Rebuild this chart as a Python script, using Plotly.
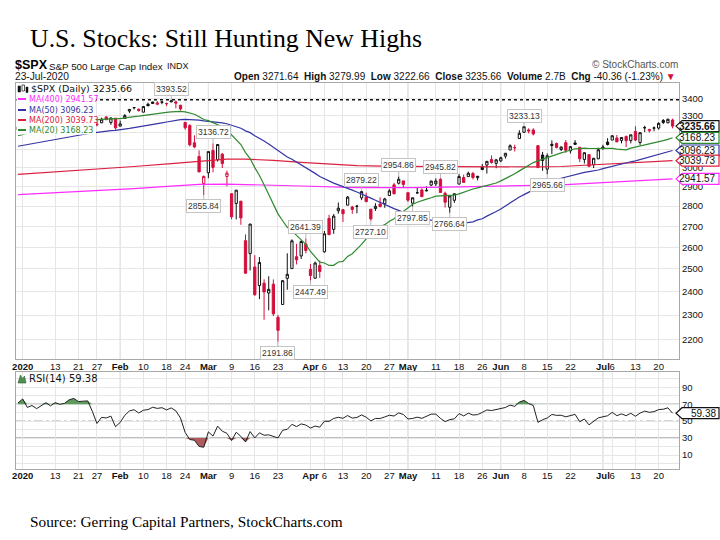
import math
import plotly.graph_objects as go

# ---------------- data ----------------
dates = [
    "2019-12-31",
    "2020-01-02", "2020-01-03", "2020-01-06", "2020-01-07", "2020-01-08", "2020-01-09", "2020-01-10",
    "2020-01-13", "2020-01-14", "2020-01-15", "2020-01-16", "2020-01-17", "2020-01-21", "2020-01-22",
    "2020-01-23", "2020-01-24", "2020-01-27", "2020-01-28", "2020-01-29", "2020-01-30", "2020-01-31",
    "2020-02-03", "2020-02-04", "2020-02-05", "2020-02-06", "2020-02-07", "2020-02-10", "2020-02-11",
    "2020-02-12", "2020-02-13", "2020-02-14", "2020-02-18", "2020-02-19", "2020-02-20", "2020-02-21",
    "2020-02-24", "2020-02-25", "2020-02-26", "2020-02-27", "2020-02-28",
    "2020-03-02", "2020-03-03", "2020-03-04", "2020-03-05", "2020-03-06", "2020-03-09", "2020-03-10",
    "2020-03-11", "2020-03-12", "2020-03-13", "2020-03-16", "2020-03-17", "2020-03-18", "2020-03-19",
    "2020-03-20", "2020-03-23", "2020-03-24", "2020-03-25", "2020-03-26", "2020-03-27", "2020-03-30",
    "2020-03-31",
    "2020-04-01", "2020-04-02", "2020-04-03", "2020-04-06", "2020-04-07", "2020-04-08", "2020-04-09",
    "2020-04-13", "2020-04-14", "2020-04-15", "2020-04-16", "2020-04-17", "2020-04-20", "2020-04-21",
    "2020-04-22", "2020-04-23", "2020-04-24", "2020-04-27", "2020-04-28", "2020-04-29", "2020-04-30",
    "2020-05-01", "2020-05-04", "2020-05-05", "2020-05-06", "2020-05-07", "2020-05-08", "2020-05-11",
    "2020-05-12", "2020-05-13", "2020-05-14", "2020-05-15", "2020-05-18", "2020-05-19", "2020-05-20",
    "2020-05-21", "2020-05-22", "2020-05-26", "2020-05-27", "2020-05-28", "2020-05-29",
    "2020-06-01", "2020-06-02", "2020-06-03", "2020-06-04", "2020-06-05", "2020-06-08", "2020-06-09",
    "2020-06-10", "2020-06-11", "2020-06-12", "2020-06-15", "2020-06-16", "2020-06-17", "2020-06-18",
    "2020-06-19", "2020-06-22", "2020-06-23", "2020-06-24", "2020-06-25", "2020-06-26", "2020-06-29",
    "2020-06-30",
    "2020-07-01", "2020-07-02", "2020-07-06", "2020-07-07", "2020-07-08", "2020-07-09", "2020-07-10",
    "2020-07-13", "2020-07-14", "2020-07-15", "2020-07-16", "2020-07-17", "2020-07-20", "2020-07-21",
    "2020-07-22", "2020-07-23",
]

opens = [
    3215.18,
    3244.67, 3226.36, 3217.55, 3241.86, 3238.59, 3266.03, 3281.81, 3271.13, 3285.35, 3282.27, 3302.97,
    3323.66, 3321.03, 3330.02, 3315.77, 3333.10, 3247.16, 3255.35, 3289.46, 3256.45, 3282.33,
    3235.66, 3280.61, 3324.91, 3344.92, 3335.54, 3318.28, 3365.87, 3370.50, 3365.90, 3378.08, 3369.04,
    3380.39, 3380.45, 3360.50, 3257.61, 3238.94, 3139.90, 3062.54, 2916.90,
    2974.28, 3096.46, 3045.75, 3075.70, 2954.20, 2863.89, 2813.48, 2825.60, 2630.86, 2569.99, 2508.59,
    2425.66, 2436.50, 2393.48, 2431.94, 2290.71, 2344.44, 2457.77, 2501.29, 2555.87, 2558.98, 2614.69,
    2498.08, 2458.54, 2514.92, 2578.28, 2738.65, 2685.00, 2776.99, 2782.46, 2805.10, 2795.64, 2799.34,
    2842.43, 2845.62, 2784.81, 2787.89, 2810.42, 2812.64, 2854.65, 2909.96, 2918.46, 2930.91,
    2869.09, 2815.01, 2868.88, 2883.14, 2878.26, 2908.83, 2915.46, 2939.50, 2865.86, 2794.54, 2829.95,
    2913.86, 2948.59, 2953.63, 2969.95, 2948.05, 3004.08, 3015.65, 3046.61, 3025.17,
    3038.78, 3064.78, 3098.90, 3111.56, 3163.84, 3199.92, 3213.32, 3213.42, 3123.53, 3071.04, 2993.76,
    3131.00, 3136.13, 3101.64, 3140.29, 3094.42, 3138.70, 3114.40, 3046.60, 3073.20, 3018.59, 3050.20,
    3105.92, 3143.64, 3155.29, 3166.44, 3153.07, 3176.17, 3152.47, 3205.08, 3141.11, 3225.98, 3208.36,
    3224.21, 3224.29, 3268.52, 3254.86, 3271.64,
]

highs = [
    3231.72,
    3258.14, 3246.15, 3246.84, 3244.91, 3267.07, 3275.58, 3282.99, 3288.13, 3294.25, 3298.66, 3317.11,
    3329.88, 3329.79, 3337.77, 3326.88, 3333.18, 3258.85, 3285.78, 3293.47, 3285.91, 3282.33,
    3268.44, 3306.92, 3337.58, 3347.96, 3341.42, 3352.26, 3375.63, 3381.47, 3385.09, 3380.69, 3375.01,
    3393.52, 3389.15, 3360.76, 3259.81, 3246.99, 3182.51, 3097.07, 2959.72,
    3090.96, 3136.72, 3130.97, 3083.04, 2985.93, 2863.89, 2882.59, 2825.60, 2660.95, 2711.33, 2562.98,
    2553.93, 2453.57, 2466.97, 2453.01, 2300.73, 2449.71, 2571.42, 2637.01, 2615.91, 2631.80, 2641.39,
    2522.75, 2533.22, 2538.18, 2676.85, 2756.89, 2760.75, 2818.57, 2782.46, 2851.85, 2801.88, 2806.51,
    2879.22, 2868.98, 2785.54, 2815.10, 2844.90, 2842.71, 2887.72, 2921.15, 2954.86, 2930.91,
    2869.09, 2844.24, 2898.23, 2891.11, 2901.92, 2932.16, 2944.25, 2945.82, 2874.14, 2852.80, 2865.01,
    2968.09, 2964.21, 2980.29, 2978.50, 2956.76, 3021.72, 3036.25, 3068.67, 3049.17,
    3062.18, 3081.07, 3130.94, 3128.91, 3211.72, 3233.13, 3222.71, 3223.27, 3123.53, 3088.42, 3079.76,
    3153.45, 3141.16, 3120.00, 3155.53, 3120.92, 3154.90, 3115.01, 3086.25, 3073.73, 3053.89, 3111.51,
    3128.44, 3165.81, 3182.59, 3184.15, 3171.80, 3179.78, 3186.82, 3235.32, 3200.95, 3238.28, 3220.39,
    3233.52, 3258.61, 3277.29, 3279.32, 3279.99,
]

lows = [
    3212.03,
    3235.53, 3222.34, 3214.64, 3232.43, 3236.67, 3263.67, 3260.86, 3268.43, 3277.19, 3280.69, 3302.82,
    3318.86, 3316.61, 3320.04, 3301.87, 3281.53, 3234.50, 3253.22, 3271.89, 3242.80, 3214.68,
    3235.66, 3280.61, 3313.75, 3334.39, 3322.12, 3317.77, 3352.72, 3369.72, 3360.52, 3366.15, 3355.61,
    3378.83, 3341.02, 3328.45, 3214.65, 3118.77, 3108.99, 2977.39, 2855.84,
    2945.19, 2976.63, 3034.38, 2999.83, 2901.54, 2734.43, 2734.00, 2707.22, 2478.86, 2492.37, 2380.94,
    2367.04, 2280.52, 2319.78, 2295.56, 2191.86, 2344.44, 2407.53, 2500.72, 2520.02, 2545.28, 2571.15,
    2447.49, 2455.79, 2459.96, 2574.57, 2657.67, 2663.30, 2762.36, 2721.17, 2805.10, 2761.54, 2764.32,
    2830.88, 2820.43, 2727.10, 2775.95, 2794.26, 2791.76, 2852.89, 2860.71, 2912.16, 2892.47,
    2821.61, 2797.85, 2863.55, 2847.65, 2876.48, 2902.88, 2903.44, 2869.59, 2793.15, 2766.64, 2816.78,
    2913.86, 2922.35, 2953.63, 2938.57, 2933.59, 2988.17, 2969.75, 3023.40, 2998.61,
    3031.54, 3051.64, 3098.90, 3090.41, 3163.84, 3196.00, 3193.11, 3181.49, 2999.49, 2984.47, 2965.66,
    3076.06, 3108.03, 3093.51, 3083.11, 3079.39, 3127.12, 3032.13, 3024.01, 3004.63, 2999.74, 3047.83,
    3101.17, 3124.52, 3155.29, 3142.93, 3136.53, 3115.70, 3136.22, 3149.43, 3127.66, 3200.76, 3198.59,
    3205.65, 3215.16, 3247.77, 3253.10, 3222.66,
]

closes = [
    3230.78,
    3257.85, 3234.85, 3246.28, 3237.18, 3253.05, 3274.70, 3265.35, 3288.13, 3283.15, 3289.29, 3316.81,
    3329.62, 3320.79, 3321.75, 3325.54, 3295.47, 3243.63, 3276.24, 3273.40, 3283.66, 3225.52,
    3248.92, 3297.59, 3334.69, 3345.78, 3327.71, 3352.09, 3357.75, 3379.45, 3373.94, 3380.16, 3370.29,
    3386.15, 3373.23, 3337.75, 3225.89, 3128.21, 3116.39, 2978.76, 2954.22,
    3090.23, 3003.37, 3130.12, 3023.94, 2972.37, 2746.56, 2882.23, 2741.38, 2480.64, 2711.02, 2386.13,
    2529.19, 2398.10, 2409.39, 2304.92, 2237.40, 2447.33, 2475.56, 2630.07, 2541.47, 2626.65, 2584.59,
    2470.50, 2526.90, 2488.65, 2663.68, 2659.41, 2749.98, 2789.82, 2761.63, 2846.06, 2783.36, 2799.55,
    2874.56, 2823.16, 2736.56, 2799.31, 2797.80, 2836.74, 2878.48, 2863.39, 2939.51, 2912.43,
    2830.71, 2842.74, 2868.44, 2848.42, 2881.19, 2929.80, 2930.32, 2870.12, 2820.00, 2852.50, 2863.70,
    2953.91, 2922.94, 2971.61, 2948.51, 2955.45, 2991.77, 3036.13, 3029.73, 3044.31,
    3055.73, 3080.82, 3122.87, 3112.35, 3193.93, 3232.39, 3207.18, 3190.14, 3002.10, 3041.31, 3066.59,
    3124.74, 3113.49, 3115.34, 3097.74, 3117.86, 3131.29, 3050.33, 3083.76, 3009.05, 3053.24, 3100.29,
    3115.86, 3130.01, 3179.72, 3145.32, 3169.94, 3152.05, 3185.04, 3155.22, 3197.52, 3226.56, 3215.57,
    3224.73, 3251.84, 3257.30, 3276.02, 3235.66,
]

# closes before the first bar (Oct 21 - Dec 30, 2019), needed for MA(20), MA(50), RSI(14)
prior_closes = [
    3006.72, 2995.99, 3004.52, 3010.29, 3022.55, 3039.42, 3036.89, 3046.77, 3037.56,
    3066.91, 3078.27, 3074.62, 3076.78, 3085.18, 3093.08, 3087.01, 3091.84, 3094.04, 3096.63,
    3120.46, 3122.03, 3120.18, 3108.46, 3103.54, 3110.29, 3133.64, 3140.52, 3153.63, 3140.98,
    3113.87, 3093.20, 3112.76, 3117.43, 3145.91, 3135.96, 3132.52, 3141.63, 3168.57, 3168.80,
    3191.45, 3192.52, 3191.14, 3205.37, 3221.22, 3224.01, 3223.38, 3239.91, 3240.02, 3221.29,
]

# long moving averages
ma200_dates = ["2019-12-31", "2020-01-14", "2020-01-27", "2020-02-06", "2020-02-19", "2020-02-27",
               "2020-03-06", "2020-03-12", "2020-03-20", "2020-03-30", "2020-04-07", "2020-04-16",
               "2020-04-28", "2020-05-12", "2020-05-27", "2020-06-10", "2020-06-18", "2020-06-26",
               "2020-07-07", "2020-07-15", "2020-07-23"]
ma200_vals = [2966, 2980, 2994, 3008, 3024, 3038, 3048, 3048, 3042, 3031, 3022, 3013,
              3009, 3007, 3006, 3006, 3008, 3016, 3023, 3031, 3039.73]

ma400_dates = ["2019-12-31", "2020-01-14", "2020-01-27", "2020-02-06", "2020-02-19", "2020-02-27",
               "2020-03-06", "2020-03-13", "2020-03-30", "2020-04-16", "2020-05-04", "2020-05-18",
               "2020-06-08", "2020-06-18", "2020-06-26", "2020-07-09", "2020-07-23"]
ma400_vals = [2859, 2869, 2878, 2890, 2903, 2912, 2914, 2912, 2904, 2895, 2895, 2899,
              2904, 2910, 2918, 2928, 2941.57]

# x-axis tick labels
tick_dates = ["2020-01-02", "2020-01-13", "2020-01-21", "2020-01-27", "2020-02-03", "2020-02-10",
              "2020-02-18", "2020-02-24", "2020-03-02", "2020-03-09", "2020-03-16", "2020-03-23",
              "2020-04-01", "2020-04-06", "2020-04-13", "2020-04-20", "2020-04-27", "2020-05-01",
              "2020-05-11", "2020-05-18", "2020-05-26", "2020-06-01", "2020-06-08", "2020-06-15",
              "2020-06-22", "2020-07-01", "2020-07-06", "2020-07-13", "2020-07-20"]
tick_labels = ["<b>2020</b>", "13", "21", "27", "<b>Feb</b>", "10", "18", "24", "<b>Mar</b>", "9",
               "16", "23", "<b>Apr</b>", "6", "13", "20", "27", "<b>May</b>", "11", "18", "26",
               "<b>Jun</b>", "8", "15", "22", "<b>Jul</b>", "6", "13", "20"]
month_dates = ["2020-02-03", "2020-03-02", "2020-04-01", "2020-05-01", "2020-06-01", "2020-07-01"]

price_ticks = [2200, 2300, 2400, 2500, 2600, 2700, 2800, 2900, 3000, 3100, 3200, 3300, 3400]

# high / low callouts
callout_dates = ["2020-02-19", "2020-03-03", "2020-02-28", "2020-03-23", "2020-03-31", "2020-04-01",
                 "2020-04-17", "2020-04-21", "2020-04-29", "2020-05-04", "2020-05-12", "2020-05-14",
                 "2020-06-08", "2020-06-15"]
callout_values = [3393.52, 3136.72, 2855.84, 2191.86, 2641.39, 2447.49, 2879.22, 2727.10,
                  2954.86, 2797.85, 2945.82, 2766.64, 3233.13, 2965.66]
callout_side = ["high", "high", "low", "low", "high", "low", "high", "low",
                "high", "low", "high", "low", "high", "low"]

# ---------------- indicators ----------------
all_closes = prior_closes + closes
n0 = len(prior_closes)


def sma(period):
    out = []
    for k in range(n0, len(all_closes)):
        w = all_closes[k - period + 1:k + 1]
        out.append(sum(w) / len(w))
    return out


def wilder_rsi(vals, period=14):
    res = [None] * len(vals)
    gains = [max(vals[k] - vals[k - 1], 0) for k in range(1, len(vals))]
    losses = [max(vals[k - 1] - vals[k], 0) for k in range(1, len(vals))]
    ag = sum(gains[:period]) / period
    al = sum(losses[:period]) / period
    res[period] = 100 - 100 / (1 + ag / al) if al > 0 else 100
    for k in range(period, len(gains)):
        ag = (ag * (period - 1) + gains[k]) / period
        al = (al * (period - 1) + losses[k]) / period
        res[k + 1] = 100 - 100 / (1 + ag / al) if al > 0 else 100
    return res


ma20 = sma(20)
ma50 = sma(50)
rsi = wilder_rsi(all_closes)[n0:]

prev_close = all_closes[n0 - 1:-1]
up_idx = [k for k in range(len(dates)) if closes[k] >= prev_close[k]]
dn_idx = [k for k in range(len(dates)) if closes[k] < prev_close[k]]

# ---------------- styling ----------------
RED = "#d40f3c"
BLACK = "#111111"
C_MA20 = "#2f8a2f"
C_MA50 = "#3535a5"
C_MA200 = "#dc2040"
C_MA400 = "#ff2cff"
GRID = "#e6e6e6"
FRAME = "#a8a8a8"
SANS = "Liberation Sans"
VSANS = "DejaVu Sans"

W, H = 720, 540
PL, PR, PT, PB = 16, 679, 83, 469  # plot area in pixels


def PX(x):
    return (x - PL) / (PR - PL)


def PY(y):
    return (PB - y) / (PB - PT)


price_dom = [PY(359.3), 1]
rsi_dom = [0, PY(371.7)]
L3400 = math.log10(3400)
PXPERDEC = 1274.5
y_top = L3400 + (98.7 - PT) / PXPERDEC
y_bot = L3400 - (359.3 - 98.7) / PXPERDEC

x_lo = -0.44
x_hi = x_lo + (PR - PL) / 4.642

fig = go.Figure()


def candle_trace(idx, color):
    return go.Candlestick(
        x=[dates[k] for k in idx], open=[opens[k] for k in idx], high=[highs[k] for k in idx],
        low=[lows[k] for k in idx], close=[closes[k] for k in idx],
        increasing=dict(line=dict(color=color, width=1), fillcolor="white"),
        decreasing=dict(line=dict(color=color, width=1), fillcolor=color),
        whiskerwidth=0, showlegend=False, hoverinfo="none", xaxis="x", yaxis="y")


fig.add_trace(go.Scatter(x=ma400_dates, y=ma400_vals, mode="lines", line=dict(color=C_MA400, width=1.2),
                         xaxis="x", yaxis="y", hoverinfo="skip", showlegend=False))
fig.add_trace(go.Scatter(x=ma200_dates, y=ma200_vals, mode="lines", line=dict(color=C_MA200, width=1.2),
                         xaxis="x", yaxis="y", hoverinfo="skip", showlegend=False))
fig.add_trace(go.Scatter(x=dates, y=ma50, mode="lines", line=dict(color=C_MA50, width=1.2),
                         xaxis="x", yaxis="y", hoverinfo="skip", showlegend=False))
fig.add_trace(go.Scatter(x=dates, y=ma20, mode="lines", line=dict(color=C_MA20, width=1.2),
                         xaxis="x", yaxis="y", hoverinfo="skip", showlegend=False))
fig.add_trace(candle_trace(up_idx, BLACK))
fig.add_trace(candle_trace(dn_idx, RED))

# RSI panel
rsi_hi = [max(v, 70) for v in rsi]
rsi_lo = [min(v, 30) for v in rsi]
fig.add_trace(go.Scatter(x=dates, y=[70] * len(dates), mode="lines", line=dict(width=0),
                         xaxis="x2", yaxis="y2", hoverinfo="skip", showlegend=False))
fig.add_trace(go.Scatter(x=dates, y=rsi_hi, mode="lines", line=dict(width=0), fill="tonexty",
                         fillcolor="#5e9a5e", xaxis="x2", yaxis="y2", hoverinfo="skip", showlegend=False))
fig.add_trace(go.Scatter(x=dates, y=[30] * len(dates), mode="lines", line=dict(width=0),
                         xaxis="x2", yaxis="y2", hoverinfo="skip", showlegend=False))
fig.add_trace(go.Scatter(x=dates, y=rsi_lo, mode="lines", line=dict(width=0), fill="tonexty",
                         fillcolor="#b05c5c", xaxis="x2", yaxis="y2", hoverinfo="skip", showlegend=False))
fig.add_trace(go.Scatter(x=dates, y=rsi, mode="lines", line=dict(color="#222222", width=1),
                         xaxis="x2", yaxis="y2", hoverinfo="skip", showlegend=False))

xcommon = dict(type="category", categoryorder="array", categoryarray=dates, range=[x_lo, x_hi],
               tickvals=tick_dates, ticktext=tick_labels, showgrid=True, gridcolor=GRID, gridwidth=1,
               showline=True, mirror=True, linecolor=FRAME, linewidth=1, ticks="", zeroline=False,
               tickfont=dict(family=SANS, size=9.5, color="#111"), tickangle=0, fixedrange=True,
               ticklabelstandoff=-2)

rsi_tickvals = [0, 10, 20, 30, 40, 50, 60, 70, 80, 90, 100]
rsi_ticktext = ["", "10", "", "30", "", "50", "", "70", "", "90", ""]

fig.update_layout(
    width=W, height=H, autosize=False,
    margin=dict(l=PL, r=W - PR, t=PT, b=H - PB, pad=0),
    paper_bgcolor="white", plot_bgcolor="white", hovermode=False, showlegend=False,
    xaxis=dict(xcommon, anchor="y", domain=[0, 1], rangeslider=dict(visible=False)),
    xaxis2=dict(xcommon, anchor="y2", domain=[0, 1], matches="x"),
    yaxis=dict(type="log", range=[y_bot, y_top], domain=price_dom, side="right",
               tickvals=price_ticks, ticktext=[str(v) for v in price_ticks], showgrid=True,
               gridcolor=GRID, showline=True, mirror=True, linecolor=FRAME, ticks="", zeroline=False,
               tickfont=dict(family=SANS, size=9.5, color="#111"), fixedrange=True),
    yaxis2=dict(range=[-6.5, 108.4], domain=rsi_dom, side="right", tickvals=rsi_tickvals,
                ticktext=rsi_ticktext, showgrid=True, gridcolor=GRID, showline=True, mirror=True,
                linecolor=FRAME, ticks="", zeroline=False,
                tickfont=dict(family=SANS, size=9.5, color="#111"), fixedrange=True),
    boxgap=0.3,
)

shapes = []
# month boundary lines (slightly darker)
for d in month_dates:
    i = dates.index(d)
    for yr in ("y domain", "y2 domain"):
        shapes.append(dict(type="line", xref="x", yref=yr, x0=i, x1=i, y0=0, y1=1,
                           line=dict(color="#d0d0d0", width=1), layer="below"))
# RSI reference lines
shapes.append(dict(type="line", xref="x2 domain", yref="y2", x0=0, x1=1, y0=70, y1=70,
                   line=dict(color="#666", width=1), layer="below"))
shapes.append(dict(type="line", xref="x2 domain", yref="y2", x0=0, x1=1, y0=30, y1=30,
                   line=dict(color="#666", width=1), layer="below"))
shapes.append(dict(type="line", xref="x2 domain", yref="y2", x0=0, x1=1, y0=50, y1=50,
                   line=dict(color="#8a8a8a", width=1, dash="dashdot"), layer="below"))
# dotted line at the period high (shape positions on a log axis are data values)
shapes.append(dict(type="line", xref="paper", yref="y", x0=0, x1=1,
                   y0=max(highs), y1=max(highs),
                   line=dict(color="#111", width=1.6, dash="dot"), layer="above"))
# legend background
shapes.append(dict(type="rect", xref="paper", yref="paper", x0=PX(16.5), x1=PX(96), y0=PY(134.5), y1=PY(83.5),
                   fillcolor="white", line=dict(width=0), layer="above"))
shapes.append(dict(type="rect", xref="paper", yref="paper", x0=PX(96), x1=PX(140), y0=PY(94), y1=PY(83.5),
                   fillcolor="white", line=dict(width=0), layer="above"))
# legend swatches
for yy, col in [(99, C_MA400), (110, C_MA50), (120, C_MA200), (130, C_MA20)]:
    shapes.append(dict(type="line", xref="paper", yref="paper", x0=PX(18), x1=PX(26), y0=PY(yy), y1=PY(yy),
                       line=dict(color=col, width=2), layer="above"))
# tiny candle icon
shapes.append(dict(type="rect", xref="paper", yref="paper", x0=PX(18), x1=PX(20.5), y0=PY(92), y1=PY(86),
                   fillcolor=BLACK, line=dict(color=BLACK, width=0.5), layer="above"))
shapes.append(dict(type="rect", xref="paper", yref="paper", x0=PX(22), x1=PX(24.5), y0=PY(91), y1=PY(85),
                   fillcolor="white", line=dict(color=BLACK, width=0.7), layer="above"))
shapes.append(dict(type="rect", xref="paper", yref="paper", x0=PX(26), x1=PX(28), y0=PY(92.5), y1=PY(87),
                   fillcolor=BLACK, line=dict(color=BLACK, width=0.5), layer="above"))
# RSI legend icon (small mountain)
shapes.append(dict(type="path", xref="paper", yref="paper",
                   path="M %f,%f L %f,%f L %f,%f L %f,%f L %f,%f Z" % (
                       PX(18), PY(383), PX(20.5), PY(375), PX(22.5), PY(379), PX(24.5), PY(376), PX(26), PY(383)),
                   fillcolor="#4f8f4f", line=dict(color="#2f5f2f", width=0.6), layer="above"))

annotations = []


def value_tag(yref, shape_y, ann_y, text, color, bold=False):
    shapes.append(dict(type="path", xref="paper", yref=yref, xsizemode="pixel", ysizemode="pixel",
                       xanchor=1, yanchor=shape_y, path="M -3,0 L 3,5.5 L 40,5.5 L 40,-5.5 L 3,-5.5 Z",
                       fillcolor="white", line=dict(color=color, width=1.2), layer="above"))
    annotations.append(dict(xref="paper", yref=yref, x=PX(717.5), y=ann_y, xanchor="right",
                            yanchor="middle", showarrow=False,
                            text=("<b>%s</b>" % text) if bold else text,
                            font=dict(family=SANS, size=10, color="#111")))


for v, col, b in [(closes[-1], BLACK, True), (ma20[-1], C_MA20, False), (ma50[-1], C_MA50, False),
                  (ma200_vals[-1], C_MA200, False), (ma400_vals[-1], C_MA400, False)]:
    value_tag("y", v, math.log10(v), "%.2f" % v, col, b)
value_tag("y2", rsi[-1], rsi[-1], "%.2f" % rsi[-1], BLACK)

# high/low callouts
for d, v, s in zip(callout_dates, callout_values, callout_side):
    annotations.append(dict(xref="x", yref="y", x=dates.index(d), y=math.log10(v), text="%.2f" % v,
                            showarrow=True, arrowhead=0, arrowwidth=1, arrowcolor="#b8b8b8",
                            ax=0, ay=(-11 if s == "high" else 11), standoff=0,
                            bgcolor="white", bordercolor="#c4c4c4", borderwidth=1, borderpad=1,
                            font=dict(family=SANS, size=8.5, color="#333")))


def txt(x, y, text, size, color="#111", family=SANS, xanchor="left"):
    annotations.append(dict(xref="paper", yref="paper", x=PX(x), y=PY(y), text=text, showarrow=False,
                            xanchor=xanchor, yanchor="middle", font=dict(family=family, size=size, color=color)))


# title, header, footer
txt(28, 38, "U.S. Stocks: Still Hunting New Highs", 25.8, "#000", "Liberation Serif")
txt(13, 65, "<b>$SPX</b>", 12.5, "#000")
txt(47, 66, "S&amp;P 500 Large Cap Index", 9.8, "#111")
txt(165, 66, "INDX", 9, "#111")
txt(13, 77, "23-Jul-2020", 10.2, "#111")
txt(678, 77, "<b>Open</b> 3271.64  <b>High</b> 3279.99  <b>Low</b> 3222.66  <b>Close</b> 3235.66  "
             "<b>Volume</b> 2.7B  <b>Chg</b> -40.36 (-1.23%) <span style='color:#d40f3c'>▼</span>",
    10, "#111", SANS, "right")
txt(680, 64, "© StockCharts.com", 10, "#555", SANS, "right")
txt(28, 521, "Source: Gerring Capital Partners, StockCharts.com", 15.3, "#000", "Liberation Serif")

# in-chart legend
txt(29, 88.5, "$SPX (Daily) 3235.66", 9.5, "#111", VSANS)
txt(27, 99, "MA(400) 2941.57", 8, C_MA400, VSANS)
txt(27, 110, "MA(50) 3096.23", 8, C_MA50, VSANS)
txt(27, 120, "MA(200) 3039.73", 8, C_MA200, VSANS)
txt(27, 130, "MA(20) 3168.23", 8, C_MA20, VSANS)
txt(27, 378, "RSI(14) 59.38", 10, "#111", VSANS)

fig.update_layout(shapes=shapes, annotations=annotations)
fig.write_html("out.html", config={"displayModeBar": False, "staticPlot": True},
               post_script="document.body.style.margin='0px';document.body.style.padding='0px';")
